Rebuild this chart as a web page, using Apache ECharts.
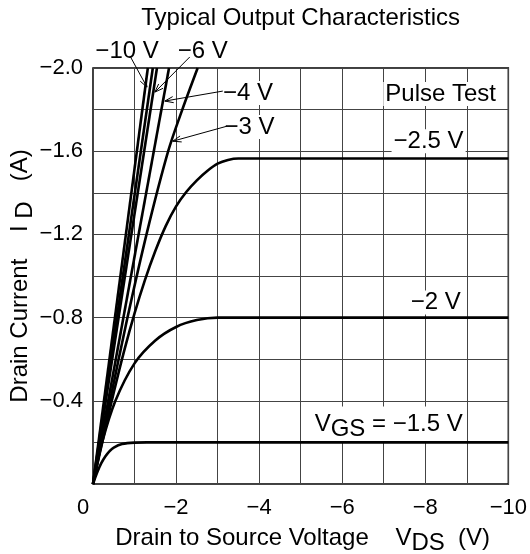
<!DOCTYPE html>
<html><head><meta charset="utf-8">
<script src="https://cdn.jsdelivr.net/npm/echarts@6/dist/echarts.min.js"></script>
<style>html,body{margin:0;padding:0;background:#fff}#c{width:530px;height:554px}</style>
</head><body><div id="c"></div>
<script>
// ---- data (VDS in V, ID in A) ----
const xTickValues = [0, -2, -4, -6, -8, -10];
const yTickValues = [-0.4, -0.8, -1.2, -1.6, -2.0];
const ID_vgs_m10 = [[0, 0], [-1.32, -2.0]];
const ID_vgs_m8  = [[0, 0], [-1.44, -2.0]];
const ID_vgs_m6  = [[0, 0], [-1.54, -2.0]];
const ID_vgs_m4  = [[0, 0], [-1.83, -2.0]];
const ID_vgs_m3  = [[0, 0], [-0.4, -0.39], [-0.83, -0.8], [-1.3, -1.21], [-1.81, -1.6], [-2.15, -1.8], [-2.52, -2.0]];
const ID_vgs_m2_5 = [[0, 0], [-0.25, -0.225], [-0.5, -0.44], [-0.75, -0.64], [-1.0, -0.82], [-1.25, -0.98], [-1.5, -1.12],
  [-1.75, -1.24], [-2.0, -1.335], [-2.25, -1.405], [-2.5, -1.46], [-2.75, -1.505], [-3.0, -1.54], [-3.25, -1.558], [-3.5, -1.565],
  [-4.0, -1.565], [-5.0, -1.565], [-10, -1.565]];
const ID_vgs_m2 = [[0, 0], [-0.22, -0.2], [-0.54, -0.4], [-1.0, -0.58], [-1.5, -0.69], [-2.0, -0.755], [-2.5, -0.788], [-3.0, -0.8],
  [-3.5, -0.8], [-4.5, -0.8], [-10, -0.8]];
const ID_vgs_m1_5 = [[0, 0], [-0.1, -0.055], [-0.2, -0.1], [-0.3, -0.133], [-0.4, -0.158], [-0.5, -0.175], [-0.7, -0.192], [-1.0, -0.199],
  [-1.3, -0.2], [-1.8, -0.2], [-3.0, -0.2], [-10, -0.2]];
const curveNames = ['−10 V', '−8 V', '−6 V', '−4 V', '−3 V', '−2.5 V', '−2 V', '−1.5 V'];
const curveData = [ID_vgs_m10, ID_vgs_m8, ID_vgs_m6, ID_vgs_m4, ID_vgs_m3, ID_vgs_m2_5, ID_vgs_m2, ID_vgs_m1_5];

// annotation texts (anchored in data coordinates)
const annoTexts = ['−10 V', '−6 V', '−4 V', '−3 V', '−2.5 V', '−2 V', 'Pulse Test'];
const annoAt = [[-0.82, -2.082], [-2.64, -2.082], [-3.73, -1.880], [-3.77, -1.716], [-8.08, -1.648], [-8.25, -0.872], [-8.37, -1.875]];
const arrowFrom = [[-0.89, -2.058], [-2.33, -2.053], [-3.125, -1.889], [-3.22, -1.72]];
const arrowTo = [[-1.30, -1.908], [-1.49, -1.884], [-1.73, -1.841], [-1.92, -1.648]];
const vgsLabelAt = [-7.12, -0.289];

const FONT = '"Liberation Sans", Arial, Helvetica, sans-serif';
const F24 = '24px ' + FONT;

const chart = echarts.init(document.getElementById('c'));
const option = {
  animation: false,
  grid: { left: 93, right: 21, top: 68, bottom: 70, show: true, borderColor: '#000', borderWidth: 1.5, backgroundColor: 'transparent' },
  xAxis: {
    type: 'value', min: -10, max: 0, interval: 1, inverse: true,
    axisLine: { show: false }, axisTick: { show: false },
    splitLine: { show: true, lineStyle: { color: '#444', width: 1 } },
    axisLabel: {
      margin: 13, color: '#000', fontSize: 22, fontFamily: FONT,
      formatter: v => {
        const r = Math.round(v);
        if (xTickValues.indexOf(r) < 0 || Math.abs(v - r) > 1e-6) return '';
        if (r === 0) return '{z|0}';
        return r.toFixed(0).replace('-', '−');
      },
      rich: { z: { fontSize: 22, fontFamily: FONT, color: '#000', padding: [0, 20, 0, 0] } }
    }
  },
  yAxis: {
    type: 'value', min: -2, max: 0, interval: 0.2, inverse: true,
    axisLine: { show: false }, axisTick: { show: false },
    splitLine: { show: true, lineStyle: { color: '#444', width: 1 } },
    axisLabel: {
      margin: 10, color: '#000', fontSize: 22, fontFamily: FONT,
      formatter: v => {
        const r = Math.round(v * 10) / 10;
        const hit = yTickValues.some(t => Math.abs(t - v) < 1e-6);
        return hit ? r.toFixed(1).replace('-', '−') : '';
      }
    }
  },
  series: curveData.map((d, i) => ({
    type: 'line', name: curveNames[i], data: d, showSymbol: false, symbol: 'none',
    smooth: d.length > 2 ? 0.3 : false, clip: true,
    lineStyle: { color: '#000', width: 2.6 }, z: 5
  }))
};
chart.setOption(option);

function px(p) { return chart.convertToPixel({ gridIndex: 0 }, p); }
const txtStyle = (text, extra) => Object.assign({
  text: text, font: F24, fill: '#000',
  textAlign: 'center', textVerticalAlign: 'middle', align: 'center', verticalAlign: 'middle'
}, extra || {});
const subRich = { a: { font: F24, fill: '#000' }, s: { font: F24, fill: '#000', padding: [11, 0, 0, 0] } };

const g = [];
const gridLeft = px([0, 0]), gridRight = px([-10, -2]);
const cx = (gridLeft[0] + gridRight[0]) / 2, cy = (gridLeft[1] + gridRight[1]) / 2;
// title
g.push({ type: 'text', x: cx, y: 18, z: 100, style: txtStyle('Typical Output Characteristics') });
// x axis title
g.push({ type: 'text', x: cx + 2, y: 538, z: 100, style: txtStyle('{a|Drain to Source Voltage    V}{s|DS}{a|  (V)}', { rich: subRich }) });
// y axis title
g.push({ type: 'text', x: 20, y: cy, rotation: Math.PI / 2, z: 100, style: txtStyle('{a|Drain Current    I}{s| D}{a|   (A)}', { rich: subRich }) });
// annotations (below curves, above grid lines)
annoTexts.forEach((t, i) => {
  const p = px(annoAt[i]);
  const inside = annoAt[i][1] > -2;
  g.push({ type: 'text', x: p[0], y: p[1], z: 3, style: txtStyle(t, inside ? { backgroundColor: '#fff', padding: [0, 2] } : {}) });
});
{
  const p = px(vgsLabelAt);
  g.push({ type: 'text', x: p[0], y: p[1], z: 3, style: txtStyle('{a|V}{s|GS}{a| = −1.5 V}', {
    backgroundColor: '#fff', padding: [0, 2], rich: subRich }) });
}
// arrows
arrowFrom.forEach((f, i) => {
  const a = px(f), b = px(arrowTo[i]);
  const ang = Math.atan2(b[1] - a[1], b[0] - a[0]);
  const L = 9, w = 0.35;
  g.push({ type: 'line', z: 101, shape: { x1: a[0], y1: a[1], x2: b[0], y2: b[1] }, style: { stroke: '#000', lineWidth: 1 } });
  g.push({ type: 'polyline', z: 101, shape: { points: [
    [b[0] - L * Math.cos(ang - w), b[1] - L * Math.sin(ang - w)], [b[0], b[1]],
    [b[0] - L * Math.cos(ang + w), b[1] - L * Math.sin(ang + w)] ] }, style: { stroke: '#000', lineWidth: 1, fill: null } });
});
chart.setOption({ graphic: { elements: g } });
</script></body></html>
